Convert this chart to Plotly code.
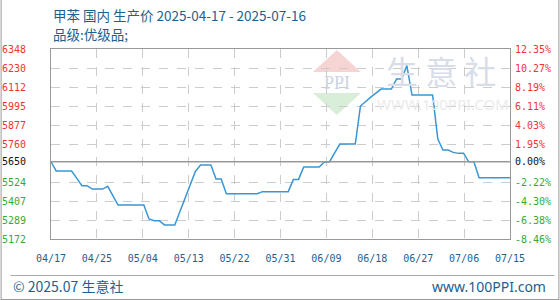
import pandas as pd
import plotly.graph_objects as go

# ---------------- data ----------------
start_date = "2025-04-17"
end_date = "2025-07-15"
base_price = 5650

prices = [
    5650, 5593, 5593, 5593, 5593, 5547, 5502, 5502, 5481, 5481,
    5481, 5498, 5440, 5382, 5382, 5382, 5382, 5382, 5382, 5296,
    5285, 5285, 5259, 5259, 5259, 5342, 5425, 5507, 5590, 5630,
    5630, 5630, 5543, 5543, 5452, 5452, 5452, 5452, 5452, 5452,
    5452, 5465, 5465, 5465, 5465, 5465, 5465, 5541, 5541, 5618,
    5618, 5618, 5618, 5649, 5649, 5705, 5760, 5760, 5760, 5760,
    5995, 6025, 6050, 6075, 6100, 6100, 6100, 6162, 6162, 6245,
    6063, 6063, 6063, 6063, 6063, 5791, 5723, 5723, 5708, 5702,
    5702, 5650, 5650, 5551, 5551, 5551, 5551, 5551, 5551, 5551,
]

x_tick_labels = ["04/17", "04/25", "05/04", "05/13", "05/22", "05/31",
                 "06/09", "06/18", "06/27", "07/06", "07/15"]

y_tick_values = [5172, 5289.6, 5407.2, 5524.8, 5650, 5760, 5877.6,
                 5995.2, 6112.8, 6230.4, 6348]
y_tick_labels = ["5172", "5289", "5407", "5524", "5650", "5760", "5877",
                 "5995", "6112", "6230", "6348"]
pct_tick_labels = ["-8.46%", "-6.38%", "-4.30%", "-2.22%", "0.00%", "1.95%",
                   "4.03%", "6.11%", "8.19%", "10.27%", "12.35%"]

title_text = "甲苯 国内 生产价 2025-04-17 - 2025-07-16"
subtitle_text = "品级:优级品;"
footer_left = "© 2025.07 生意社"
footer_right = "www.100PPI.com"

# ---------------- derived ----------------
dates = pd.date_range(start_date, periods=len(prices), freq="D")
t0 = pd.Timestamp(start_date)
t1 = pd.Timestamp(end_date)
span = (t1 - t0) / (len(x_tick_labels) - 1)
x_tick_vals = [t0 + span * i for i in range(len(x_tick_labels))]

y_min, y_max = y_tick_values[0], y_tick_values[-1]
pct = [(p / base_price - 1) * 100 for p in prices]
pct_tick_vals = [(v / base_price - 1) * 100 for v in y_tick_values]

RED = "#f03434"
GREEN = "#35aa35"
BLACK = "#111111"
BLUE_TXT = "#1d5f8f"


def col(v):
    if abs(v - base_price) < 1e-6:
        return BLACK
    return RED if v > base_price else GREEN


left_text = [f"<span style='color:{col(v)}'>{t}</span>" for v, t in zip(y_tick_values, y_tick_labels)]
right_text = [f"<span style='color:{col(v)}'>{t}</span>" for v, t in zip(y_tick_values, pct_tick_labels)]

# plot area in pixels (for decoration placement)
W, H = 560, 300
L, R, T, B = 50.5, 510.5, 49, 239


def px(x):
    return (x - L) / (R - L)


def py(y):
    return (B - y) / (B - T)


fig = go.Figure()
fig.add_trace(go.Scatter(x=dates, y=prices, mode="lines",
                         line=dict(color="#3a96d4", width=1.5),
                         hoverinfo="skip", showlegend=False))
fig.add_trace(go.Scatter(x=dates, y=pct, mode="lines", yaxis="y2",
                         line=dict(color="rgba(0,0,0,0)", width=0),
                         hoverinfo="skip", showlegend=False))

tickfont = dict(family="DejaVu Sans Mono", size=10)

fig.update_layout(
    width=W, height=H,
    margin=dict(l=L, r=W - R, t=T, b=H - B, autoexpand=False),
    paper_bgcolor="white", plot_bgcolor="white",
    showlegend=False,
    xaxis=dict(type="date", range=[t0, t1], tickvals=x_tick_vals, ticktext=x_tick_labels,
               showgrid=True, gridcolor="#cccccc", griddash="dash", gridwidth=1,
               showline=True, mirror=True, linecolor="#999999", linewidth=1,
               ticks="", tickfont=dict(color=BLUE_TXT, **tickfont), ticklabelstandoff=10,
               zeroline=False, fixedrange=True, automargin=False),
    yaxis=dict(range=[y_min, y_max], tickvals=y_tick_values, ticktext=left_text,
               showgrid=True, gridcolor="#cccccc", griddash="dash", gridwidth=1,
               showline=True, mirror=True, linecolor="#999999", linewidth=1,
               ticks="", tickfont=dict(color=BLACK, **tickfont), ticklabelstandoff=22,
               zeroline=False, fixedrange=True, automargin=False),
    yaxis2=dict(overlaying="y", side="right",
                range=[(y_min / base_price - 1) * 100, (y_max / base_price - 1) * 100],
                tickvals=pct_tick_vals, ticktext=right_text,
                showgrid=False, showline=False, zeroline=False, ticks="",
                tickfont=dict(color=BLACK, **tickfont), ticklabelstandoff=4,
                fixedrange=True, automargin=False),
)

shapes = []
# watermark triangles (PPI logo)
shapes.append(dict(type="path", xref="paper", yref="paper", layer="below",
                   path=f"M {px(313)} {py(72)} L {px(337)} {py(50)} L {px(361)} {py(72)} Z",
                   fillcolor="#f6d4d4", line=dict(width=0)))
shapes.append(dict(type="path", xref="paper", yref="paper", layer="below",
                   path=f"M {px(313)} {py(93)} L {px(361)} {py(93)} L {px(337)} {py(115)} Z",
                   fillcolor="#d8eed8", line=dict(width=0)))
# base price line
shapes.append(dict(type="line", xref="paper", yref="y", x0=0, x1=1, y0=base_price, y1=base_price,
                   line=dict(color="#999999", width=1.5)))
# outer frame + footer separator
shapes.append(dict(type="line", xref="paper", yref="paper", x0=px(0.5), x1=px(0.5), y0=py(0), y1=py(299.5),
                   line=dict(color="#999999", width=1)))
shapes.append(dict(type="line", xref="paper", yref="paper", x0=px(559.5), x1=px(559.5), y0=py(0), y1=py(299.5),
                   line=dict(color="#999999", width=1)))
shapes.append(dict(type="line", xref="paper", yref="paper", x0=px(0), x1=px(560), y0=py(299.5), y1=py(299.5),
                   line=dict(color="#999999", width=1)))
shapes.append(dict(type="line", xref="paper", yref="paper", x0=px(10), x1=px(555), y0=py(275.5), y1=py(275.5),
                   line=dict(color="#aaaaaa", width=1)))
fig.update_layout(shapes=shapes)

cjk = "Noto Sans CJK SC"
ann = [
    dict(text=title_text, x=px(50), y=py(15), xanchor="left", yanchor="middle",
         font=dict(family=cjk, size=13.5, color=BLUE_TXT)),
    dict(text=subtitle_text, x=px(50), y=py(34), xanchor="left", yanchor="middle",
         font=dict(family=cjk, size=13.5, color=BLUE_TXT)),
    dict(text=footer_left, x=px(10), y=py(286), xanchor="left", yanchor="middle",
         font=dict(family=cjk, size=14, color=BLUE_TXT)),
    dict(text=footer_right, x=px(549), y=py(286), xanchor="right", yanchor="middle",
         font=dict(family="Noto Sans", size=14, color=BLUE_TXT)),
    # watermark texts
    dict(text="PPI", x=px(337), y=py(83), xanchor="center", yanchor="middle",
         font=dict(family="Liberation Serif", size=18, color="#ccd3e3")),
    dict(text="生 意 社", x=px(441), y=py(70), xanchor="center", yanchor="middle",
         font=dict(family=cjk, size=32, color="#d8dde8")),
    dict(text="WWW.100PPI.COM", x=px(443), y=py(104), xanchor="center", yanchor="middle",
         font=dict(family="Noto Sans", size=15, color="#ebebeb")),
]
for a in ann:
    a.update(xref="paper", yref="paper", showarrow=False)
fig.update_layout(annotations=ann)

fig.write_html("out.html")
